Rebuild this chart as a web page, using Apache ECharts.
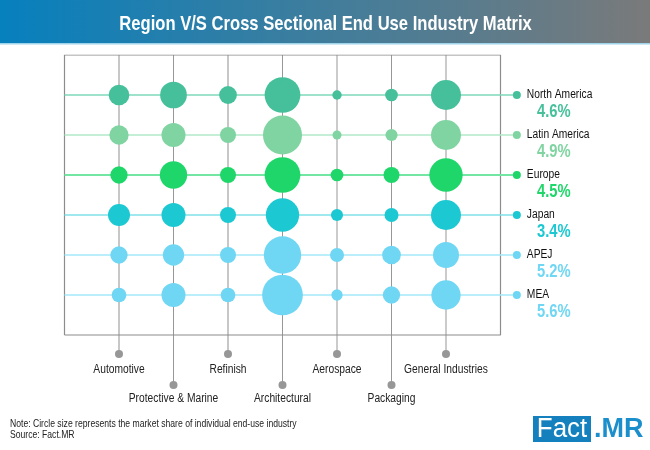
<!DOCTYPE html>
<html>
<head>
    <meta charset="utf-8">
    <title>Region V/S Cross Sectional End Use Industry Matrix</title>
    <script src="https://cdn.jsdelivr.net/npm/echarts@6/dist/echarts.min.js"></script>
    <style>
        html, body { margin: 0; padding: 0; background: #fff; }
    </style>
</head>
<body>
    <div id="main" style="width:650px;height:450px;"></div>
    <script type="text/javascript">
        var industries = ['Automotive', 'Protective & Marine', 'Refinish', 'Architectural', 'Aerospace', 'Packaging', 'General Industries'];
        var regions = ['North America', 'Latin America', 'Europe', 'Japan', 'APEJ', 'MEA'];
        var cagr = ['4.6%', '4.9%', '4.5%', '3.4%', '5.2%', '5.6%'];

        // market share per region
        var northAmerica = [11.1, 18.6, 8.2, 33.2, 2.3, 4.2, 23.4];
        var latinAmerica = [9.7, 15, 6.7, 39.6, 2.1, 3.8, 23.4];
        var europe = [7.8, 19.4, 6.7, 33.2, 4.2, 6.7, 28.9];
        var japan = [12.6, 15, 6.7, 28.9, 3.8, 5.1, 23.4];
        var apej = [7.8, 11.8, 6.7, 36.2, 5.1, 9.1, 17.6];
        var mea = [5.6, 15, 5.6, 43.1, 3.3, 7.8, 22.3];
        var shares = [northAmerica, latinAmerica, europe, japan, apej, mea];

        var colors = ['#45c09a', '#7fd4a1', '#1fd66a', '#1cc8d2', '#6fd6f3', '#6fd6f3'];
        var rowLines = ['#7fd9bb', '#b2e8c8', '#74e6a4', '#7fe2e8', '#a3e8f8', '#a3e8f8'];

        var sans = '"Liberation Sans", sans-serif';
        var narrowScale = 0.82; // no narrow face installed, squeeze the text instead
        var sizeScale = 6.2;
        var boxRight = 8, boxTop = 7, legendX = 8.3;
        var stemLow = -0.475, stemHigh = -1.25;

        var series = [];

        // vertical stems running down to the industry dots
        industries.forEach(function(name, i) {
            var low = i % 2 === 0 ? stemLow : stemHigh;
            series.push({
                type: 'line', silent: true, symbol: 'none', z: 1,
                lineStyle: { color: i < 3 && i % 2 === 0 ? '#b9b9b9' : '#979797', width: i < 3 && i % 2 === 0 ? 1.6 : 1 },
                data: [[i + 1, boxTop], [i + 1, low]]
            });
            series.push({
                type: 'scatter', silent: true, z: 3, symbolSize: 8,
                itemStyle: { color: '#979797', opacity: 1 },
                data: [[i + 1, low]]
            });
        });

        // plot frame
        series.push({
            type: 'line', silent: true, symbol: 'none', z: 2,
            lineStyle: { color: '#8c8c8c', width: 1.2 },
            data: [[0, 0], [boxRight, 0], [boxRight, boxTop], [0, boxTop], [0, 0]]
        });

        regions.forEach(function(name, r) {
            var y = regions.length - r;
            series.push({
                type: 'line', silent: true, symbol: 'none', z: 2,
                lineStyle: { color: rowLines[r], width: r === 2 ? 2 : 1.4 },
                data: [[0, y], [legendX, y]]
            });
            series.push({
                type: 'scatter', silent: true, z: 4,
                symbolSize: function(v) { return Math.sqrt(v[2]) * sizeScale; },
                itemStyle: { color: colors[r], opacity: 1 },
                data: shares[r].map(function(v, i) { return [i + 1, y, v]; })
            });
            series.push({
                type: 'scatter', silent: true, z: 4, symbolSize: 8,
                itemStyle: { color: colors[r], opacity: 1 },
                data: [[legendX, y]]
            });
        });

        function squeezed(text, x, y, font, fill, align, scaleX) {
            return {
                type: 'text', x: x, y: y, scaleX: scaleX || narrowScale, z: 10,
                style: { text: text, fill: fill, font: font + ' ' + sans, textAlign: align || 'left', textVerticalAlign: 'middle' }
            };
        }

        var option = {
            animation: false,
            backgroundColor: '#fff',
            grid: { left: 64.5, top: 55, width: 545, height: 360 },
            xAxis: { type: 'value', min: 0, max: 10, interval: 1, show: false },
            yAxis: { type: 'value', min: -2, max: 7, interval: 1, show: false },
            series: series
        };

        var myChart = echarts.init(document.getElementById('main'));
        myChart.setOption(option);

        // text sits on the chart's own scales, so it is placed after the first setOption
        var graphics = [
            {
                type: 'rect', shape: { x: 0, y: 0, width: 650, height: 43 },
                style: {
                    fill: {
                        type: 'linear', x: 0, y: 0, x2: 1, y2: 0,
                        colorStops: [{ offset: 0, color: '#0680be' }, { offset: 1, color: '#7a7a7a' }]
                    }
                }
            },
            { type: 'rect', shape: { x: 0, y: 43, width: 650, height: 1.5 }, style: { fill: '#9fd4ea' } },
            squeezed('Region V/S Cross Sectional End Use Industry Matrix', 325.5, 24, 'bold 20.5px', '#fff', 'center', 0.81),
            squeezed('Note: Circle size represents the market share of individual end-use industry', 10, 424, '10.5px', '#222'),
            squeezed('Source: Fact.MR', 10, 435, '10.5px', '#222'),
            { type: 'rect', shape: { x: 533, y: 416, width: 58, height: 26 }, style: { fill: '#1580be' } },
            squeezed('Fact', 562, 429.5, '27px', '#fff', 'center', 0.96),
            squeezed('.MR', 594, 429.5, 'bold 27px', '#1b8fcb', 'left', 1)
        ];

        industries.forEach(function(name, i) {
            var low = i % 2 === 0 ? stemLow : stemHigh;
            var p = myChart.convertToPixel('grid', [i + 1, low]);
            graphics.push(squeezed(name, p[0], p[1] + (i % 2 === 0 ? 16 : 14), '12.5px', '#222', 'center'));
        });

        regions.forEach(function(name, r) {
            var p = myChart.convertToPixel('grid', [legendX, regions.length - r]);
            graphics.push(squeezed(name, p[0] + 10, p[1] - 0.5, '12.5px', '#111'));
            graphics.push(squeezed(cagr[r], p[0] + 37, p[1] + 17.5, 'bold 18px', colors[r], 'center'));
        });

        myChart.setOption({ graphic: graphics });
    </script>
</body>
</html>
